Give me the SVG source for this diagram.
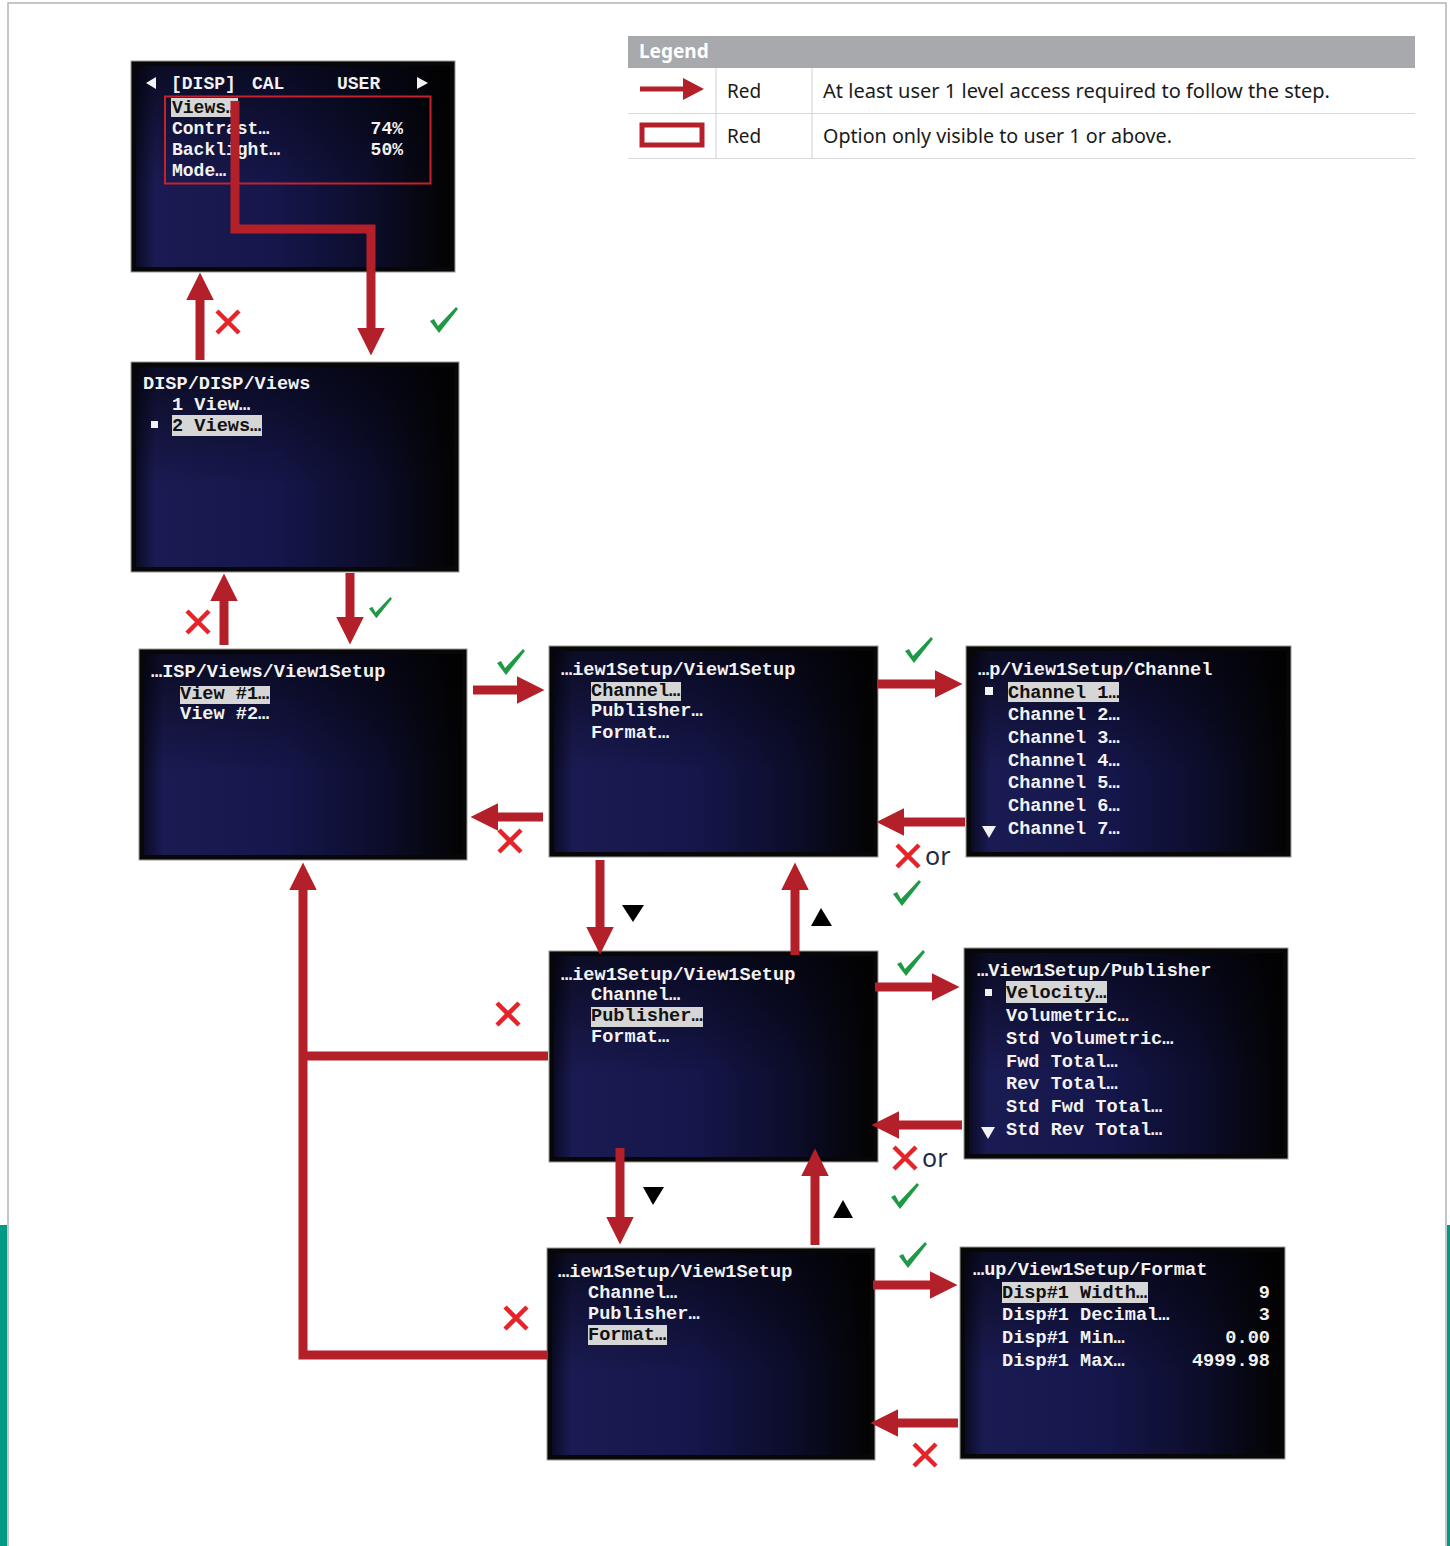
<svg xmlns="http://www.w3.org/2000/svg" xmlns:xlink="http://www.w3.org/1999/xlink" width="1450" height="1546" viewBox="0 0 1450 1546">
<style>
.st{font-family:"Liberation Mono","DejaVu Sans Mono",monospace;font-weight:bold;font-size:18.6px;fill:#f2f2f2}
.s1{font-size:18px}
.hl{fill:#d6d6d6}
.ht{fill:#111}
.so{fill:#070707;stroke:#9a9a9a;stroke-width:1}
.si{fill:url(#gh)}
.sv{fill:url(#gv)}
.wt{fill:#f2f2f2}
.arr{fill:none;stroke:#b3202a;stroke-width:9;stroke-linejoin:miter;marker-end:url(#ah)}
.ln{fill:none;stroke:#b3202a;stroke-width:9}
.lg{font-family:"Noto Sans","Liberation Sans",sans-serif;font-size:19px;fill:#1a1a1a}
.or{font-family:"Noto Sans","Liberation Sans",sans-serif;font-size:25px;fill:#1f2a44}
.tri{fill:#000}
</style>
<defs>
<linearGradient id="gh" x1="0" y1="0" x2="1" y2="0">
<stop offset="0" stop-color="#0b0b25"/>
<stop offset="0.06" stop-color="#1a1b52"/>
<stop offset="0.45" stop-color="#15164a"/>
<stop offset="0.75" stop-color="#0c0d2a"/>
<stop offset="1" stop-color="#030303"/>
</linearGradient>
<linearGradient id="gv" x1="0" y1="0" x2="0" y2="1">
<stop offset="0" stop-color="#000" stop-opacity="0.55"/>
<stop offset="0.6" stop-color="#000" stop-opacity="0"/>
<stop offset="1" stop-color="#000" stop-opacity="0"/>
</linearGradient>
<marker id="ah" viewBox="0 0 10 10" refX="3" refY="5" markerWidth="3.1" markerHeight="3.1" orient="auto" markerUnits="strokeWidth">
<path d="M0,0 L10,5 L0,10 z" fill="#b3202a"/>
</marker>
<path id="chk" d="M0,14 L4,12 L8,19 L26,0 L28,2 L9,26 Z" fill="#1e9a45"/>
<path id="xx" d="M-11,-11 L11,11 M11,-11 L-11,11" stroke="#e52329" stroke-width="4.5" fill="none"/>
</defs>

<rect x="0" y="0" width="1450" height="1546" fill="#fff"/>
<g id="page">
<rect x="0" y="1225" width="7" height="321" fill="#009a86"/>
<rect x="1447" y="1225" width="3" height="321" fill="#009a86"/>
<path d="M8,1546 V3 H1446 V1546" fill="none" stroke="#b4b4b4" stroke-width="1.5"/>
</g>

<g id="legend">
<rect x="628" y="36" width="787" height="32" fill="#a7a9ac"/>
<text x="639" y="58" font-family="Noto Sans, Liberation Sans, sans-serif" font-size="19" font-weight="bold" fill="#fff">Legend</text>
<path d="M628,113.5 H1415 M628,158.5 H1415 M716,68 V159 M812,68 V159" stroke="#d9d9d9" stroke-width="1.2" fill="none"/>
<rect x="640" y="86.5" width="45" height="5" fill="#b3202a"/>
<path d="M683,78 L704,89 L683,100 Z" fill="#b3202a"/>
<rect x="642" y="125" width="60" height="20" fill="none" stroke="#b3202a" stroke-width="5"/>
<text class="lg" x="727" y="98">Red</text>
<text class="lg" x="823" y="98" textLength="507" lengthAdjust="spacingAndGlyphs">At least user 1 level access required to follow the step.</text>
<text class="lg" x="727" y="143">Red</text>
<text class="lg" x="823" y="143" textLength="349" lengthAdjust="spacingAndGlyphs">Option only visible to user 1 or above.</text>
</g>

<g id="screen1">
<rect class="so" x="131" y="61" width="324" height="211"/>
<rect class="si" x="136" y="66" width="314" height="201"/>
<rect class="sv" x="136" y="66" width="314" height="201"/>
<path class="wt" d="M146,83 L156,77 L156,89 Z M417,77 L417,89 L428,83 Z"/>
<text class="st s1" x="171" y="89">[DISP]</text>
<text class="st s1" x="252" y="89">CAL</text>
<text class="st s1" x="337" y="89">USER</text>
<rect class="hl" x="171" y="98" width="67" height="19"/>
<text class="st s1 ht" x="172" y="113">Views…</text>
<text class="st s1" x="172" y="134">Contrast…</text>
<text class="st s1" x="403" y="134" text-anchor="end">74%</text>
<text class="st s1" x="172" y="155">Backlight…</text>
<text class="st s1" x="403" y="155" text-anchor="end">50%</text>
<text class="st s1" x="172" y="176">Mode…</text>
<rect x="165" y="96.5" width="265.5" height="87" fill="none" stroke="#c4232b" stroke-width="2"/>
</g>

<g id="screen2">
<rect class="so" x="131" y="362" width="328" height="210"/>
<rect class="si" x="136" y="367" width="318" height="200"/>
<rect class="sv" x="136" y="367" width="318" height="200"/>
<text class="st" x="143" y="389">DISP/DISP/Views</text>
<text class="st" x="172" y="410">1 View…</text>
<rect class="wt" x="151" y="421" width="7" height="7"/>
<rect class="hl" x="172" y="415" width="90" height="21"/>
<text class="st ht" x="172" y="431">2 Views…</text>
</g>

<g id="screen3">
<rect class="so" x="139" y="649" width="328" height="211"/>
<rect class="si" x="144" y="654" width="318" height="201"/>
<rect class="sv" x="144" y="654" width="318" height="201"/>
<text class="st" x="151" y="677">…ISP/Views/View1Setup</text>
<rect class="hl" x="180" y="686" width="90" height="18"/>
<text class="st ht" x="180" y="699">View #1…</text>
<text class="st" x="180" y="719">View #2…</text>
</g>

<g id="screen4">
<rect class="so" x="549" y="646" width="329" height="211"/>
<rect class="si" x="554" y="651" width="319" height="201"/>
<rect class="sv" x="554" y="651" width="319" height="201"/>
<text class="st" x="561" y="675">…iew1Setup/View1Setup</text>
<rect class="hl" x="591" y="682" width="90" height="19"/>
<text class="st ht" x="591" y="696">Channel…</text>
<text class="st" x="591" y="716">Publisher…</text>
<text class="st" x="591" y="738">Format…</text>
</g>

<g id="screen5">
<rect class="so" x="966" y="646" width="325" height="211"/>
<rect class="si" x="971" y="651" width="315" height="201"/>
<rect class="sv" x="971" y="651" width="315" height="201"/>
<text class="st" x="978" y="675">…p/View1Setup/Channel</text>
<rect class="wt" x="985" y="687" width="8" height="8"/>
<rect class="hl" x="1008" y="682" width="111" height="20"/>
<text class="st ht" x="1008" y="698">Channel 1…</text>
<text class="st" x="1008" y="720">Channel 2…</text>
<text class="st" x="1008" y="743">Channel 3…</text>
<text class="st" x="1008" y="766">Channel 4…</text>
<text class="st" x="1008" y="788">Channel 5…</text>
<text class="st" x="1008" y="811">Channel 6…</text>
<text class="st" x="1008" y="834">Channel 7…</text>
<path class="wt" d="M982,826 L996,826 L989,838 Z"/>
</g>

<g id="screen6">
<rect class="so" x="549" y="951" width="329" height="211"/>
<rect class="si" x="554" y="956" width="319" height="201"/>
<rect class="sv" x="554" y="956" width="319" height="201"/>
<text class="st" x="561" y="980">…iew1Setup/View1Setup</text>
<text class="st" x="591" y="1000">Channel…</text>
<rect class="hl" x="591" y="1007" width="112" height="20"/>
<text class="st ht" x="591" y="1021">Publisher…</text>
<text class="st" x="591" y="1042">Format…</text>
</g>

<g id="screen7">
<rect class="so" x="964" y="948" width="324" height="211"/>
<rect class="si" x="969" y="953" width="314" height="201"/>
<rect class="sv" x="969" y="953" width="314" height="201"/>
<text class="st" x="977" y="976">…View1Setup/Publisher</text>
<rect class="wt" x="985" y="989" width="7" height="7"/>
<rect class="hl" x="1006" y="981" width="101" height="22"/>
<text class="st ht" x="1006" y="998">Velocity…</text>
<text class="st" x="1006" y="1021">Volumetric…</text>
<text class="st" x="1006" y="1044">Std Volumetric…</text>
<text class="st" x="1006" y="1067">Fwd Total…</text>
<text class="st" x="1006" y="1089">Rev Total…</text>
<text class="st" x="1006" y="1112">Std Fwd Total…</text>
<text class="st" x="1006" y="1135">Std Rev Total…</text>
<path class="wt" d="M981,1127 L995,1127 L988,1139 Z"/>
</g>

<g id="screen8">
<rect class="so" x="547" y="1248" width="328" height="212"/>
<rect class="si" x="552" y="1253" width="318" height="202"/>
<rect class="sv" x="552" y="1253" width="318" height="202"/>
<text class="st" x="558" y="1277">…iew1Setup/View1Setup</text>
<text class="st" x="588" y="1298">Channel…</text>
<text class="st" x="588" y="1319">Publisher…</text>
<rect class="hl" x="588" y="1325" width="79" height="20"/>
<text class="st ht" x="588" y="1340">Format…</text>
</g>

<g id="screen9">
<rect class="so" x="960" y="1247" width="325" height="212"/>
<rect class="si" x="965" y="1252" width="315" height="202"/>
<rect class="sv" x="965" y="1252" width="315" height="202"/>
<text class="st" x="973" y="1275">…up/View1Setup/Format</text>
<rect class="hl" x="1002" y="1282" width="146" height="21"/>
<text class="st ht" x="1002" y="1298">Disp#1 Width…</text>
<text class="st" x="1270" y="1298" text-anchor="end">9</text>
<text class="st" x="1002" y="1320">Disp#1 Decimal…</text>
<text class="st" x="1270" y="1320" text-anchor="end">3</text>
<text class="st" x="1002" y="1343">Disp#1 Min…</text>
<text class="st" x="1270" y="1343" text-anchor="end">0.00</text>
<text class="st" x="1002" y="1366">Disp#1 Max…</text>
<text class="st" x="1270" y="1366" text-anchor="end">4999.98</text>
</g>

<g id="connectors">
<path class="arr" d="M200,360 V292"/>
<path class="arr" d="M235,101 V229 H371 V336"/>
<path class="arr" d="M224,645 V593"/>
<path class="arr" d="M350,573 V625"/>
<path class="arr" d="M473,690 H525"/>
<path class="arr" d="M543,817 H490"/>
<path class="arr" d="M878,684 H943"/>
<path class="arr" d="M965,822 H896"/>
<path class="arr" d="M600,860 V935"/>
<path class="arr" d="M795,955 V882"/>
<path class="arr" d="M875,987 H940"/>
<path class="arr" d="M962,1125 H891"/>
<path class="arr" d="M620,1148 V1225"/>
<path class="arr" d="M815,1245 V1168"/>
<path class="arr" d="M873,1285 H938"/>
<path class="arr" d="M958,1423 H890"/>
<path class="ln" d="M548,1056 H300"/>
<path class="arr" d="M548,1355 H303 V882"/>
</g>

<g id="marks">
<use xlink:href="#xx" href="#xx" x="228" y="322"/>
<use xlink:href="#xx" href="#xx" x="198" y="622"/>
<use xlink:href="#xx" href="#xx" x="510" y="841"/>
<use xlink:href="#xx" href="#xx" x="908" y="856"/>
<use xlink:href="#xx" href="#xx" x="508" y="1014"/>
<use xlink:href="#xx" href="#xx" x="905" y="1158"/>
<use xlink:href="#xx" href="#xx" x="516" y="1318"/>
<use xlink:href="#xx" href="#xx" x="925" y="1455"/>
<text class="or" x="925" y="865">or</text>
<text class="or" x="922" y="1167">or</text>
<use xlink:href="#chk" href="#chk" x="430" y="307"/>
<g transform="translate(369,597) scale(0.82)"><use xlink:href="#chk" href="#chk"/></g>
<use xlink:href="#chk" href="#chk" x="497" y="649"/>
<use xlink:href="#chk" href="#chk" x="905" y="637"/>
<use xlink:href="#chk" href="#chk" x="893" y="880"/>
<use xlink:href="#chk" href="#chk" x="897" y="950"/>
<use xlink:href="#chk" href="#chk" x="891" y="1183"/>
<use xlink:href="#chk" href="#chk" x="899" y="1242"/>
<path class="tri" d="M622,905 L644,905 L633,922 Z"/>
<path class="tri" d="M811,926 L832,926 L821,908 Z"/>
<path class="tri" d="M643,1187 L664,1187 L653,1205 Z"/>
<path class="tri" d="M833,1218 L853,1218 L843,1200 Z"/>
</g>
</svg>
